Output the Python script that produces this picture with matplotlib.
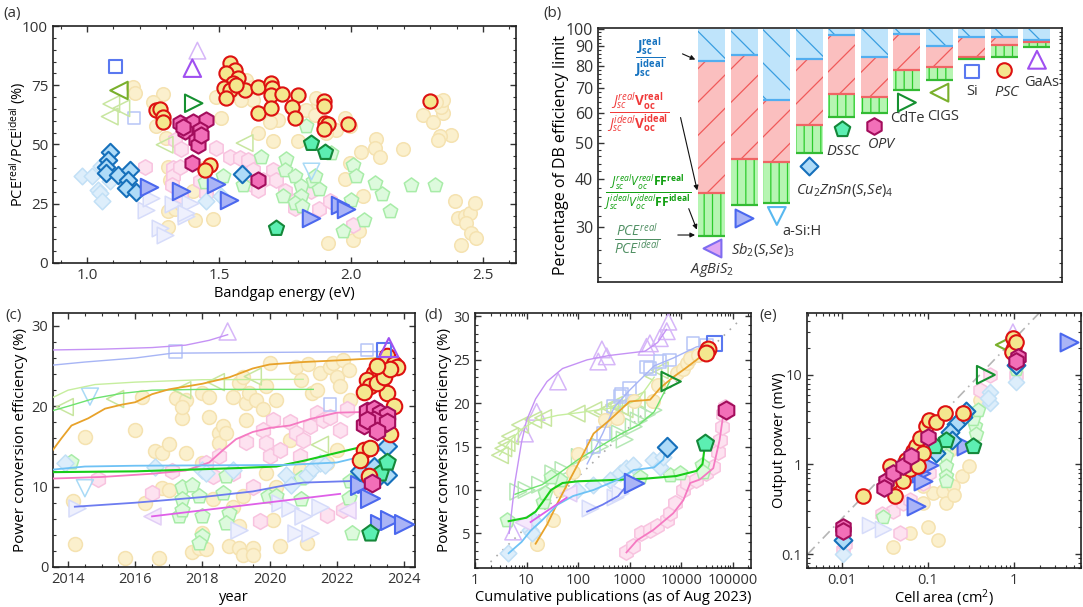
import numpy as np
import matplotlib
matplotlib.use("Agg")
import matplotlib.pyplot as plt
from matplotlib.ticker import AutoMinorLocator, FixedLocator, NullFormatter, FuncFormatter, LogLocator

plt.rcParams['font.family'] = ['Open Sans', 'DejaVu Sans']
plt.rcParams['font.size'] = 10.5
plt.rcParams['mathtext.fontset'] = 'custom'
plt.rcParams['mathtext.rm'] = 'Open Sans'
plt.rcParams['mathtext.it'] = 'Open Sans:italic'
plt.rcParams['mathtext.bf'] = 'Open Sans:bold'
plt.rcParams['axes.linewidth'] = 1.2
plt.rcParams['hatch.linewidth'] = 0.9
plt.rcParams['xtick.direction'] = 'in'
plt.rcParams['ytick.direction'] = 'in'
plt.rcParams['xtick.top'] = True
plt.rcParams['ytick.right'] = True
plt.rcParams['xtick.color'] = '#333333'
plt.rcParams['ytick.color'] = '#333333'

# ---------------- data: panel (a)  bandgap (eV), PCE ratio (%) ----------------
a_psc = [(1.54, 84.3), (1.559, 81.5), (1.528, 80), (1.572, 78), (1.553, 75.8), (1.518, 73.7),
         (1.54, 73), (1.597, 73), (1.528, 69.5), (1.566, 75), (1.648, 74.2), (1.698, 76.1),
         (1.70, 73.7), (1.698, 70.9), (1.74, 71.3), (1.799, 70.9), (1.778, 66), (1.787, 61.1),
         (1.648, 63.2), (1.698, 65.3), (1.896, 68.4), (1.896, 66.3), (1.90, 59), (1.913, 58.7),
         (1.896, 56.5), (1.989, 58.6), (2.298, 68.4), (1.263, 64.6), (1.278, 64.9),
         (1.288, 61.8), (1.288, 59.7), (1.467, 41.2), (1.446, 39.3)]
a_psc_f = [(1.174, 74.2), (1.18, 71.6), (1.288, 71.3), (1.25, 68.1), (1.26, 57.9), (1.30, 52.7),
           (1.49, 70.2), (1.506, 61.1), (1.603, 77.2), (1.629, 74.4), (1.629, 68.8), (1.585, 68.8),
           (1.648, 54.8), (1.705, 51.3), (1.724, 60.4), (1.693, 59.3), (1.799, 51.3), (1.831, 64.6),
           (1.875, 67.4), (1.869, 69.5), (1.862, 62.5), (1.944, 56.2), (1.976, 35.5), (1.995, 42.1),
           (2.039, 47), (2.096, 52.2), (2.09, 48.5), (2.108, 44.9), (2.197, 48.2), (2.045, 28.1),
           (2.008, 9.8), (2.03, 13.3), (1.913, 8.4), (2.273, 62.5), (2.311, 59.7), (2.348, 63.2),
           (2.342, 66), (2.348, 68.8), (2.323, 68.1), (2.38, 54.1), (2.336, 53.4), (2.33, 52),
           (2.393, 26), (2.405, 19), (2.43, 19.7), (2.449, 21.1), (2.468, 25.3), (2.437, 16.9),
           (2.456, 12.6), (2.475, 10.5), (2.418, 7.7), (1.307, 15.4), (1.307, 21.8), (1.332, 22.8),
           (1.357, 25), (1.408, 18), (1.477, 18.5), (1.402, 30.2), (1.442, 40), (1.307, 40.7),
           (1.313, 35.1), (1.995, 57.6), (1.976, 61.1), (1.907, 54.8)]
a_opv = [(1.351, 59), (1.402, 59.7), (1.449, 60.4), (1.37, 55.5), (1.427, 56.2), (1.414, 52),
         (1.42, 49.9), (1.399, 42.1), (1.648, 35.1), (1.364, 57.3), (1.433, 54)]
a_opv_f = [(1.218, 40.7), (1.332, 52), (1.357, 48), (1.326, 40), (1.326, 36.5), (1.32, 33),
           (1.351, 40.7), (1.357, 28.1), (1.49, 48.5), (1.54, 44.9), (1.578, 44.2), (1.61, 43.5),
           (1.629, 39.3), (1.667, 35.1), (1.629, 33), (1.648, 30.9), (1.705, 39.3), (1.717, 35.1),
           (1.749, 30.2), (1.793, 26.7), (1.787, 23.2), (1.85, 30.2), (1.879, 22.8), (1.919, 26),
           (2.008, 16.2), (1.427, 34.4), (1.452, 29.5)]
a_czts = [(1.086, 47), (1.08, 43.5), (1.073, 40.7), (1.071, 37.9), (1.117, 37.2), (1.162, 39.3),
          (1.155, 35.1), (1.149, 31.6), (1.187, 29.8), (1.588, 37.6)]
a_czts_f = [(0.979, 36.8), (1.02, 36.8), (1.042, 30.9), (1.048, 29.5), (1.058, 26), (1.086, 34.4),
            (1.054, 41), (1.452, 26), (1.509, 28.1)]
a_sb = [(1.235, 32), (1.357, 30.5), (1.487, 33.3), (1.538, 26.7), (1.85, 19), (1.957, 24.6),
        (1.982, 22.8)]
a_sb_f = [(1.225, 22.5), (1.244, 27.4), (1.275, 14.7), (1.294, 11.9), (1.326, 25), (1.376, 19.7),
          (1.389, 25.3), (1.376, 21.1)]
a_dssc = [(1.85, 50.6), (1.90, 47), (1.717, 14.7)]
a_dssc_f = [(1.447, 34), (1.515, 36.5), (1.591, 33), (1.66, 44.9), (1.755, 43.8), (1.749, 39.3),
            (1.787, 36.5), (1.812, 32.3), (1.812, 28.1), (1.831, 57.9), (1.856, 34.4), (1.879, 31.3),
            (1.862, 36.5), (1.742, 28.1), (1.787, 25.3), (2.001, 26.7), (2.008, 41.4), (2.018, 36.5),
            (2.09, 33.7), (2.119, 29.2), (2.146, 21.8), (2.229, 33), (2.317, 33), (1.97, 13.3),
            (2.048, 18.3), (1.926, 46.3), (1.816, 24.2)]
a_gaas = [(1.399, 82.2)]
a_gaas_f = [(1.418, 89.6)]
a_si = [(1.109, 82.9)]
a_si_f = [(1.178, 61.1)]
a_cigs = [(1.121, 72.8)]
a_cigs_f = [(1.092, 67.1), (1.13, 65.3), (1.086, 61.8), (1.294, 49.9), (1.597, 50.6)]
a_cdte = [(1.404, 67.4)]
a_asi_f = [(1.85, 38.6)]

# ---------------- data: panel (b)  percentage of detailed-balance limit ----------------
b_names = [r'$AgBiS_2$', r'$Sb_2(S{,}Se)_3$', 'a-Si:H', r'$Cu_2ZnSn(S{,}Se)_4$', r'$DSSC$', r'$OPV$',
           'CdTe', 'CIGS', 'Si', r'$PSC$', 'GaAs']
b_keys = ['agbis', 'sb', 'asi', 'czts', 'dssc', 'opv', 'cdte', 'cigs', 'si', 'psc', 'gaas']
b_jsc = [82.5, 85.6, 65.0, 83.4, 96.7, 84.4, 97.3, 90.0, 95.3, 95.3, 93.8]
b_jscvoc = [36.9, 45.3, 44.6, 55.9, 67.4, 66.1, 77.8, 79.2, 84.2, 90.6, 92.3]
b_pce = [28.4, 34.2, 34.6, 46.9, 58.7, 59.9, 69.1, 73.4, 83.5, 84.4, 89.7]

# ---------------- data: panel (c)  year, PCE (%) ----------------
c_psc = [(2023.5, 26.2), (2023.7, 25.2), (2023.8, 24.9), (2023.3, 24.5), (2023.1, 24.1),
         (2022.9, 23.3), (2023.0, 22.5), (2022.8, 21.8), (2023.5, 21.6), (2023.7, 20.0),
         (2023.4, 17.1), (2023.6, 16.5), (2022.8, 14.6), (2023.0, 14.8), (2022.7, 13.3),
         (2022.95, 11.3), (2023.2, 22.9), (2023.4, 23.7), (2023.6, 24.6), (2023.2, 25.0)]
c_psc_f = [(2014.2, 2.8), (2014.5, 16.2), (2016.0, 17.1), (2015.7, 1.1), (2016.2, 21.2), (2016.7, 1.1),
           (2016.6, 14.4), (2016.8, 14.2), (2017.0, 15.3), (2016.8, 9.8), (2017.0, 9.6), (2017.2, 21.0),
           (2017.4, 18.5), (2017.5, 20.8), (2017.4, 19.9), (2017.7, 1.9), (2017.9, 2.4), (2018.1, 2.2),
           (2018.0, 4.2), (2018.0, 21.6), (2018.2, 21.2), (2018.2, 18.7), (2018.5, 16.7), (2018.5, 15.4),
           (2018.6, 17.5), (2018.7, 16.7), (2018.8, 2.6), (2019.1, 2.4), (2019.2, 1.5), (2019.5, 2.4),
           (2019.5, 1.5), (2019.1, 5.1), (2018.9, 21.2), (2019.1, 22.9), (2019.2, 23.7), (2019.3, 20.4),
           (2019.3, 18.3), (2019.4, 21.6), (2019.6, 20.8), (2019.8, 19.6), (2020.0, 25.4), (2019.9, 22.5),
           (2020.2, 20.8), (2020.3, 2.6), (2020.8, 24.9), (2020.95, 23.3), (2021.15, 25.2), (2021.25, 21.6),
           (2021.4, 22.0), (2021.5, 24.1), (2021.8, 24.9), (2021.9, 25.4), (2022.0, 23.7), (2022.1, 22.5),
           (2022.2, 25.8), (2022.35, 24.5), (2022.4, 20.8), (2021.7, 12.9), (2022.0, 14.6), (2021.1, 3.0),
           (2020.1, 5.9), (2020.6, 15.8), (2020.9, 12.1), (2018.3, 8.4), (2018.9, 7.5), (2019.2, 8.8),
           (2019.9, 11.7), (2020.2, 10.0), (2014.15, 8.2), (2016.3, 8.0), (2017.5, 14.2), (2018.0, 12.9)]
c_opv = [(2022.9, 19.4), (2023.1, 19.6), (2023.3, 19.1), (2023.5, 18.9), (2022.8, 17.7),
         (2023.3, 17.5), (2023.1, 18.3), (2023.5, 18.1), (2022.9, 18.3), (2023.2, 16.9), (2023.05, 10.5)]
c_opv_f = [(2014.9, 10.9), (2016.5, 9.2), (2017.1, 11.9), (2018.1, 12.9), (2018.3, 11.3), (2018.5, 13.8),
           (2018.9, 11.7), (2019.3, 15.6), (2019.5, 10.0), (2019.7, 5.7), (2019.8, 17.1), (2019.9, 15.4),
           (2020.0, 13.8), (2020.1, 18.3), (2020.2, 8.4), (2020.3, 14.6), (2020.6, 18.1), (2020.8, 16.7),
           (2021.0, 15.8), (2021.2, 17.5), (2021.4, 19.1), (2021.6, 18.3), (2021.8, 18.7), (2022.1, 17.1),
           (2022.3, 19.6), (2020.9, 13.8), (2021.7, 6.5), (2022.2, 7.1)]
c_dssc = [(2023.0, 4.2), (2023.3, 11.7), (2023.5, 13.1)]
c_dssc_f = [(2014.1, 13.1), (2017.4, 10.0), (2017.7, 10.2), (2017.4, 8.4), (2017.3, 6.3), (2017.4, 7.1),
            (2017.9, 8.8), (2018.0, 6.3), (2018.0, 3.8), (2017.9, 3.0), (2018.7, 11.3), (2018.6, 9.2),
            (2018.8, 6.7), (2018.7, 5.5), (2019.95, 8.8), (2020.2, 8.8), (2020.95, 11.1), (2020.95, 8.4),
            (2022.4, 10.7), (2022.35, 8.6), (2022.45, 4.2)]
c_czts = [(2023.5, 15.0), (2022.7, 11.9), (2023.1, 12.5), (2023.3, 11.4), (2023.5, 11.5)]
c_czts_f = [(2013.9, 12.9), (2016.6, 12.5), (2018.0, 12.1), (2018.1, 11.7), (2018.9, 12.1), (2020.5, 11.5),
            (2020.65, 10.2), (2021.1, 11.5), (2021.3, 12.3), (2021.5, 12.9), (2021.65, 12.7)]
c_sb = [(2022.9, 10.4), (2023.0, 8.6), (2023.3, 5.3), (2023.6, 5.9), (2024.0, 5.3), (2022.7, 10.2)]
c_sb_f = [(2014.25, 7.3), (2020.3, 8.0), (2020.6, 7.3), (2021.0, 6.3), (2021.5, 7.5), (2020.8, 4.2),
          (2021.2, 4.2), (2019.1, 4.6)]
c_agbis_f = [(2016.5, 6.3), (2022.3, 7.1)]
c_cigs_f = [(2013.9, 19.9), (2015.4, 20.9), (2018.4, 23.0), (2019.5, 23.7), (2021.5, 15.2), (2017.4, 22.0)]
c_asi_f = [(2014.5, 9.8), (2014.65, 21.2)]
c_gaas = [(2023.55, 27.3)]
c_gaas_f = [(2018.75, 29.3)]
c_si = [(2023.4, 27.0)]
c_si_f = [(2017.2, 26.8), (2022.9, 27.0), (2021.8, 20.2)]

c_lines = {
    'gaas': ([2013.5, 2015, 2016.5, 2017.5, 2018.2, 2018.75], [27.0, 27.1, 27.3, 27.6, 28.2, 28.9]),
    'si': ([2013.5, 2014.5, 2016, 2017.1, 2020, 2023.3], [25.1, 25.5, 26.0, 26.6, 26.7, 26.8]),
    'cigs': ([2013.5, 2014, 2014.8, 2016, 2018, 2021], [21.0, 22.0, 22.7, 23.0, 23.3, 23.35]),
    'cdte': ([2013.5, 2014, 2014.8, 2015.6, 2016.5, 2018, 2021.3], [19.4, 20.0, 21.0, 21.6, 22.0, 22.1, 22.1]),
    'psc': ([2013.5, 2013.8, 2014.1, 2014.6, 2015.1, 2015.6, 2016, 2016.5, 2017, 2018, 2018.8, 2019.5,
             2020, 2021, 2022, 2023.3],
            [14.3, 16.0, 17.6, 18.5, 19.7, 20.2, 20.5, 21.5, 22.1, 22.8, 23.6, 24.7, 25.2, 25.5, 25.7, 26.0]),
    'opv': ([2013.5, 2015, 2016.5, 2017.5, 2018.2, 2018.6, 2019, 2019.5, 2020, 2020.6, 2021.2, 2022, 2023],
            [11.0, 11.2, 11.6, 12.0, 13.0, 14.5, 15.9, 16.8, 17.3, 17.6, 18.4, 19.2, 19.3]),
    'dssc': ([2013.5, 2016, 2019, 2020.2, 2021, 2022, 2023], [11.8, 11.9, 12.3, 12.5, 13.2, 14.2, 15.2]),
    'czts': ([2013.5, 2014.5, 2016, 2020.5, 2022, 2023, 2023.5], [12.1, 12.5, 12.6, 12.7, 13.0, 14.0, 14.9]),
    'sb': ([2014.2, 2016, 2018, 2019.5, 2020.5, 2021, 2022.5, 2023.3], [7.5, 8.0, 8.7, 9.4, 10.2, 10.5, 10.7, 10.8]),
    'agbis': ([2016.5, 2022.1], [6.3, 9.1]),
}

# ---------------- data: panel (d)  cumulative publications, PCE (%) ----------------
d_gaas_f = [(5.5, 5.2), (9.3, 16.5), (15.7, 19), (41, 22.5), (247, 24.8), (290, 26.2), (360, 25.4),
            (2130, 26.5), (2480, 26.9), (3860, 27.5), (5260, 28.3), (5650, 29.4)]
d_cigs_f = [(3.06, 14), (3.55, 14.8), (4.1, 15.4), (4.8, 16.2), (7.5, 17.5), (13.5, 18.1), (21, 18.3),
            (94, 18.8), (198, 19.2), (417, 19.4), (650, 19.6), (1370, 20.4), (2900, 23.1), (3860, 23.8),
            (300, 19.0), (500, 19.8), (800, 19.3)]
d_cdte_f = [(6.9, 9.8), (10, 10), (18.3, 10.6), (33, 11.9), (52, 12.3), (108, 13.8), (265, 15),
            (650, 16.5), (1200, 17.3), (2150, 18.7), (2900, 19.2), (1500, 18.0), (800, 15.8)]
d_cdte = [(6400, 22.5)]
d_si_f = [(198, 15), (310, 16.5), (490, 19.6), (650, 20.8), (1000, 21.7), (2150, 24.2), (3860, 24.8),
          (6000, 25), (17000, 26.9), (31000, 26.7), (700, 21.0), (2500, 24.0)]
d_si = [(45000, 26.9)]
d_psc_f = [(15.9, 3.8), (33, 6.5), (44.7, 10), (80.6, 12.1), (101, 14.2), (334, 18.1), (560, 18.3),
           (1200, 20.2), (2900, 20.2), (3600, 22.1), (8200, 23.5), (11000, 24), (12800, 24.6),
           (14900, 25.2), (21500, 25.6)]
d_psc = [(33500, 26.2), (31000, 25.8)]
d_opv_f = [(870, 2.9), (1170, 3.5), (1700, 5), (2500, 5.4), (3400, 5.8), (5300, 6.5), (6100, 7.3),
           (7600, 8.5), (11000, 10), (12800, 10.8), (19700, 11.2), (31000, 11.9), (42000, 12.7),
           (52000, 14.4), (56000, 15.8), (61000, 17.3), (65000, 18.7), (70000, 19.6)]
d_opv = [(75000, 19.2)]
d_dssc_f = [(4.1, 6.5), (21, 8.6), (44.7, 11.1), (23, 9.6), (30, 11.5), (1600, 11.5), (6100, 11.7),
            (9500, 11.9), (25000, 12.9), (27000, 12.1)]
d_dssc = [(29000, 15.4)]
d_czts_f = [(4.4, 2.7), (11.7, 5.4), (13.5, 6.5), (12.6, 5.0), (94, 10), (198, 10.6), (417, 11.2),
            (650, 11.9), (870, 12.5), (1170, 12.9), (2900, 13.5), (3900, 12.7), (4500, 13.8)]
d_czts = [(5260, 14.9)]
d_sb_f = [(170, 7.9), (520, 9.2), (650, 9.6)]
d_sb = [(1200, 10.8)]
d_agbis_f = [(8.7, 6.3), (64.5, 9.6)]

d_lines = {
    'gaas': ([4.6, 6, 8, 10, 15, 25, 50, 150, 400, 2000, 3500, 5200],
             [5, 11, 15.5, 18, 20.5, 22.5, 24, 25, 25.5, 26, 27, 28.5]),
    'cigs': ([3, 5, 8, 15, 40, 100, 300, 800, 1500, 3000], [14, 15.8, 17, 18, 18.6, 18.9, 19.3, 19.7, 20.5, 23]),
    'cdte': ([6, 10, 20, 40, 100, 300, 700, 1500, 3000, 6000], [9.5, 10, 10.6, 11.8, 13.5, 15.2, 16.5, 17.5, 19, 22.5]),
    'si': ([150, 300, 500, 1000, 3000, 7000, 20000, 40000], [13, 16.5, 19.5, 21.5, 24.3, 25.2, 26.5, 26.8]),
    'psc': ([15, 25, 40, 60, 100, 200, 400, 1000, 2500, 4000, 7000, 12000, 20000, 32000],
            [3.8, 6, 8.5, 10.5, 13, 16.5, 18, 20.2, 20.4, 21.8, 23, 24, 25, 26]),
    'opv': ([870, 1400, 2900, 7000, 11000, 15000, 23000, 42000, 56000, 65000, 72000],
            [2.8, 4.2, 5.4, 7.3, 8.8, 10.8, 11.2, 12.5, 15.8, 18.5, 19.3]),
    'dssc': ([4.5, 10, 15, 20, 30, 50, 100, 300, 2000, 8000, 20000, 26000, 29000],
             [6.4, 6.8, 7.5, 8.5, 10, 10.8, 11.0, 11.1, 11.3, 11.6, 12.2, 13, 15.2]),
    'czts': ([4.5, 8, 12, 20, 40, 80, 200, 600, 1200, 3000, 4500, 5200],
             [2.7, 4.0, 5.3, 6.5, 8.3, 9.3, 10.0, 11.2, 12.3, 12.6, 13.5, 14.9]),
    'sb': ([150, 300, 600, 800, 1100], [7.5, 8.3, 9.3, 10.2, 10.8]),
    'agbis': ([12, 60], [6.3, 9.1]),
}
d_guide_x = [2, 150000]
d_guide_y = [1.7, 29.8]

# ---------------- data: panel (e)  cell area (cm2), output power (mW) ----------------
e_psc = [(0.0175, 0.448), (0.0358, 0.95), (0.0373, 0.646), (0.041, 0.44), (0.049, 0.8), (0.051, 0.65),
         (0.056, 1.13), (0.061, 0.9), (0.067, 1.4), (0.073, 1.6), (0.08, 1.96), (0.087, 1.34),
         (0.095, 2.7), (0.104, 3.1), (0.125, 3.0), (0.076, 0.95), (0.157, 3.73), (0.254, 3.73),
         (0.97, 25.6), (1.0, 20.7), (0.95, 18.2), (1.05, 23.5)]
e_psc_f = [(0.039, 0.12), (0.061, 0.17), (0.1, 0.2), (0.13, 0.145), (0.088, 0.37), (0.115, 0.48),
           (0.15, 0.5), (0.16, 0.37), (0.195, 0.57), (0.2, 0.46), (0.25, 0.74), (0.3, 0.95), (0.33, 1.6),
           (0.4, 5.3), (0.18, 1.46), (0.087, 0.57)]
e_opv = [(0.0103, 0.2), (0.0103, 0.18), (0.0328, 0.646), (0.031, 0.55), (0.039, 0.8), (0.051, 0.95),
         (0.064, 1.23), (0.1, 2.05), (1.1, 16), (1.05, 14.1)]
e_opv_f = [(0.0103, 0.11), (0.0107, 0.13), (0.047, 0.17), (0.039, 0.3), (0.051, 0.37), (0.061, 0.4),
           (0.087, 0.62), (0.104, 0.8), (0.4, 6.8), (0.52, 10), (1.05, 10), (0.029, 0.28)]
e_czts = [(0.0103, 0.145), (1.05, 12.9), (0.28, 4.0), (0.254, 3.4), (0.21, 2.8), (0.18, 2.3),
          (0.19, 1.9), (0.125, 1.34)]
e_czts_f = [(0.52, 6.5), (0.52, 4.8), (0.5, 5.5), (1.05, 8.4), (0.0103, 0.1)]
e_dssc = [(0.119, 1.6), (0.163, 1.9), (0.33, 1.6)]
e_dssc_f = [(0.0299, 0.26), (0.157, 1.6), (0.16, 1.23), (0.16, 0.95), (0.16, 0.74), (0.16, 0.65),
            (0.35, 2.7), (0.36, 2.2), (0.33, 3.2), (0.38, 4.1), (1.05, 11.5)]
e_sb = [(0.073, 0.34), (4.4, 23.5), (0.28, 1.6), (0.083, 0.8), (0.087, 0.65), (0.104, 0.99)]
e_sb_f = [(0.021, 0.21), (0.03, 0.19)]
e_cdte = [(0.47, 10)]
e_cigs = [(0.78, 21.6)]
e_gaas_f = [(0.97, 30)]
e_guide_x = [0.004, 2.2]
e_guide_y = [0.1, 55]

# ---------------- styles ----------------
STY = {
    'psc': dict(m='o', k=1.0, fc='#f4e78e', ec='#dd1111', ffc='#fbf0cd', fec='#f5e2b0'),
    'opv': dict(m='h', k=1.3, fc='#f26fb8', ec='#a30d5c', ffc='#fde2f0', fec='#f8c3df'),
    'dssc': dict(m='p', k=1.25, fc='#5cefb2', ec='#14883a', ffc='#ddfadd', fec='#a8eca8'),
    'czts': dict(m='D', k=0.75, fc='#aedbf8', ec='#1670bb', ffc='#ddeefb', fec='#c2e0f6'),
    'sb': dict(m='>', k=1.5, fc='#aab4f6', ec='#4b68ee', ffc='#eef0fd', fec='#d6dcfa'),
    'agbis': dict(m='<', k=1.5, fc='#e0a6f3', ec='#7f6cf0', ffc='#f6e8fc', fec='#e2cff6'),
    'asi': dict(m='v', k=1.5, fc='none', ec='#58b8f0', ffc='none', fec='#a9daf6'),
    'cdte': dict(m='>', k=1.5, fc='none', ec='#159030', ffc='none', fec='#b5e8b5'),
    'cigs': dict(m='<', k=1.5, fc='none', ec='#7ab02c', ffc='none', fec='#c8e6a0'),
    'si': dict(m='s', k=0.85, fc='none', ec='#5a78f0', ffc='none', fec='#b7c5f7'),
    'gaas': dict(m='^', k=1.5, fc='none', ec='#a050f0', ffc='none', fec='#d6b6f8'),
}
LINE_C = {'gaas': '#c592f5', 'si': '#a7b5f5', 'cigs': '#c6ee9e', 'cdte': '#6ee26e', 'psc': '#e8a22a',
          'opv': '#f57ac2', 'dssc': '#18cc18', 'czts': '#6ec2f5', 'sb': '#6d7cf0', 'agbis': '#df5fe8'}
LINE_W = {'gaas': 1.0, 'si': 1.0, 'cigs': 1.0, 'cdte': 1.0, 'psc': 1.3, 'opv': 1.3, 'dssc': 1.5,
          'czts': 1.3, 'sb': 1.3, 'agbis': 1.3}


def scat(ax, key, pts, bold=True, s=80):
    st = STY[key]
    xy = np.array(pts, dtype=float)
    if bold:
        fc, ec, lw, z = st['fc'], st['ec'], 1.5, 6
    else:
        fc, ec, lw, z = st['ffc'], st['fec'], 1.1, 2
    ax.scatter(xy[:, 0], xy[:, 1], s=s * st['k'], marker=st['m'], facecolors=fc,
               edgecolors=ec, linewidths=lw, zorder=z)


def frame(ax, labelsize=11):
    for sp in ax.spines.values():
        sp.set_color('#222222')
    ax.tick_params(which='major', length=4, width=1, labelsize=labelsize, labelcolor='#333333')
    ax.tick_params(which='minor', length=2, width=0.8)


def place_labels(ax, xl_y, yl_x):
    # label centres in axes fraction
    ax.xaxis.set_label_coords(0.5, xl_y)
    ax.xaxis.label.set_va('center')
    ax.yaxis.set_label_coords(yl_x, 0.5)
    ax.yaxis.label.set_va('center')


fig = plt.figure(figsize=(10.83, 6.07), dpi=100)
W, H = 1083, 607


def add_axes(l, t, r, b):
    return fig.add_axes([l / W, 1 - b / H, (r - l) / W, (b - t) / H])


# ---------------- (a) ----------------
ax = add_axes(53, 26, 516, 263)
for key, pts in [('psc', a_psc_f), ('opv', a_opv_f), ('dssc', a_dssc_f), ('czts', a_czts_f),
                 ('sb', a_sb_f), ('gaas', a_gaas_f), ('si', a_si_f), ('cigs', a_cigs_f), ('asi', a_asi_f)]:
    scat(ax, key, pts, bold=False, s=95)
for key, pts in [('czts', a_czts), ('sb', a_sb), ('dssc', a_dssc), ('gaas', a_gaas), ('si', a_si),
                 ('cigs', a_cigs), ('cdte', a_cdte), ('opv', a_opv), ('psc', a_psc)]:
    scat(ax, key, pts, bold=True, s=105)
ax.set_xlim(0.871, 2.625)
ax.set_ylim(0, 100)
ax.set_xticks([1.0, 1.5, 2.0, 2.5])
ax.set_yticks([0, 25, 50, 75, 100])
ax.xaxis.set_minor_locator(AutoMinorLocator(5))
ax.yaxis.set_minor_locator(AutoMinorLocator(5))
ax.set_xlabel('Bandgap energy (eV)', fontsize=10.5)
ax.set_ylabel(r'PCE$^{\rm real}$/PCE$^{\rm ideal}$ (%)', fontsize=10.5)
place_labels(ax, -0.127, -0.076)
frame(ax)

# ---------------- (b) ----------------
ax = add_axes(598, 28, 1062, 282)
xb = np.arange(len(b_keys))
jsc = np.array(b_jsc)
jv = np.array(b_jscvoc)
pce = np.array(b_pce)
bw = 0.83
ax.bar(xb, 100 - jsc, bottom=jsc, width=bw, color='#bfe4fb', edgecolor='#3a9ee0', linewidth=0,
       hatch='\\', zorder=2)
ax.bar(xb, jsc - jv, bottom=jv, width=bw, color='#fbbfbf', edgecolor='#f05a5a', linewidth=0,
       hatch='/', zorder=2)
ax.bar(xb, jv - pce, bottom=pce, width=bw, color='#b6f5b2', edgecolor='#2ccc2c', linewidth=0,
       hatch='||', zorder=2)
ax.hlines(jsc, xb - bw / 2, xb + bw / 2, color='#52aef0', lw=1.6, zorder=3)
ax.hlines(jv, xb - bw / 2, xb + bw / 2, color='#f06464', lw=1.6, zorder=3)
ax.hlines(pce, xb - bw / 2, xb + bw / 2, color='#33bb33', lw=1.6, zorder=3)
for i, key in enumerate(b_keys):
    st = STY[key]
    ax.scatter([xb[i]], [pce[i] * 0.925], s=110 * st['k'], marker=st['m'], facecolors=st['fc'],
               edgecolors=st['ec'], linewidths=1.5, zorder=5, clip_on=False)
# label positions (x, y) for the material names
b_label_xy = [(0.0, 23.0), (1.57, 26.0), (2.77, 29.2), (4.09, 37.3), (4.06, 47.3), (5.23, 49.4),
              (6.0, 57.9), (7.12, 58.6), (8.0, 68.3), (9.08, 67.9), (10.15, 72.1)]
for name, (lx, ly) in zip(b_names, b_label_xy):
    ax.text(lx, ly, name, ha='center', va='center', fontsize=10.5, color='#333333')
ax.text(-1.9, 84.0, r'$\mathbf{\frac{J_{sc}^{real}}{J_{sc}^{ideal}}}$', color='#1673c0',
        ha='center', va='center', fontsize=14)
ax.text(-2.28, 60.1, r'$\frac{J_{sc}^{real}\mathbf{V_{oc}^{real}}}{J_{sc}^{ideal}\mathbf{V_{oc}^{ideal}}}$',
        color='#f03a3a', ha='center', va='center', fontsize=14)
ax.text(-1.97, 37.1, r'$\frac{J_{sc}^{real}V_{oc}^{real}\mathbf{FF^{real}}}{J_{sc}^{ideal}V_{oc}^{ideal}\mathbf{FF^{ideal}}}$',
        color='#12a012', ha='center', va='center', fontsize=12.5)
ax.text(-2.28, 27.8, r'$\frac{PCE^{real}}{PCE^{ideal}}$', color='#4f8f62', ha='center', va='center',
        fontsize=14)
arrow = dict(arrowstyle='-|>', color='#111111', lw=0.8, mutation_scale=7)
ax.annotate('', xy=(-0.43, 82.5), xytext=(-0.98, 86.6), arrowprops=arrow)
ax.annotate('', xy=(-0.43, 36.8), xytext=(-0.98, 59.3), arrowprops=arrow)
ax.annotate('', xy=(-0.43, 29.0), xytext=(-0.74, 34.0), arrowprops=arrow)
ax.annotate('', xy=(-0.43, 28.5), xytext=(-1.13, 28.5), arrowprops=arrow)
ax.set_yscale('log')
ax.set_ylim(21.4, 100.7)
ax.set_xlim(-3.5, 10.77)
ax.set_xticks([])
ax.yaxis.set_major_locator(FixedLocator([30, 40, 50, 60, 70, 80, 90, 100]))
ax.yaxis.set_major_formatter(FuncFormatter(lambda v, p: f'{v:g}'))
ax.yaxis.set_minor_locator(FixedLocator([v for v in range(22, 100, 2) if v % 10]))
ax.yaxis.set_minor_formatter(NullFormatter())
ax.tick_params(axis='x', top=False, bottom=False)
ax.tick_params(axis='y', right=False)
ax.set_ylabel('Percentage of DB efficiency limit', fontsize=11.5)
place_labels(ax, -0.05, -0.08)
frame(ax, labelsize=11.5)

# ---------------- (c) ----------------
ax = add_axes(53, 313, 415, 567)
for key, pts in [('psc', c_psc_f), ('opv', c_opv_f), ('dssc', c_dssc_f), ('czts', c_czts_f),
                 ('sb', c_sb_f), ('agbis', c_agbis_f), ('cigs', c_cigs_f), ('asi', c_asi_f),
                 ('gaas', c_gaas_f), ('si', c_si_f)]:
    scat(ax, key, pts, bold=False, s=100)
for key, (lx, ly) in c_lines.items():
    ax.plot(lx, ly, color=LINE_C[key], lw=LINE_W[key], zorder=4)
for key, pts in [('sb', c_sb), ('czts', c_czts), ('dssc', c_dssc), ('psc', c_psc), ('opv', c_opv),
                 ('si', c_si), ('gaas', c_gaas)]:
    scat(ax, key, pts, bold=True, s=125)
ax.set_xlim(2013.55, 2024.33)
ax.set_ylim(0, 31.6)
ax.set_xticks([2014, 2016, 2018, 2020, 2022, 2024])
ax.set_yticks([0, 10, 20, 30])
ax.xaxis.set_minor_locator(AutoMinorLocator(4))
ax.yaxis.set_minor_locator(AutoMinorLocator(5))
ax.set_xlabel('year', fontsize=10.5)
ax.set_ylabel('Power conversion efficiency (%)', fontsize=11)
place_labels(ax, -0.12, -0.091)
frame(ax, labelsize=10.5)

# ---------------- (d) ----------------
ax = add_axes(475, 313, 751, 568)
ax.plot(d_guide_x, d_guide_y, color='#aaaaaa', lw=1.2, ls=(0, (1, 4)), zorder=1)
for key, pts in [('gaas', d_gaas_f), ('cigs', d_cigs_f), ('cdte', d_cdte_f), ('si', d_si_f),
                 ('psc', d_psc_f), ('opv', d_opv_f), ('dssc', d_dssc_f), ('czts', d_czts_f),
                 ('sb', d_sb_f), ('agbis', d_agbis_f)]:
    scat(ax, key, pts, bold=False, s=95)
for key, (lx, ly) in d_lines.items():
    ax.plot(lx, ly, color=LINE_C[key], lw=LINE_W[key], zorder=4)
for key, pts in [('cdte', d_cdte), ('si', d_si), ('psc', d_psc), ('opv', d_opv), ('dssc', d_dssc),
                 ('czts', d_czts), ('sb', d_sb)]:
    scat(ax, key, pts, bold=True, s=130)
ax.set_xscale('log')
ax.set_xlim(1, 2.27e5)
ax.set_ylim(1, 30.4)
ax.set_xticks([1, 10, 100, 1000, 10000, 100000])
ax.xaxis.set_major_formatter(FuncFormatter(lambda v, p: f'{v:.0f}'))
ax.xaxis.set_minor_locator(LogLocator(base=10, subs=np.arange(2, 10), numticks=20))
ax.xaxis.set_minor_formatter(NullFormatter())
ax.set_yticks([5, 10, 15, 20, 25, 30])
ax.yaxis.set_minor_locator(AutoMinorLocator(5))
ax.set_xlabel('Cumulative publications (as of Aug 2023)', fontsize=10.5)
ax.set_ylabel('Power conversion efficiency (%)', fontsize=11)
place_labels(ax, -0.117, -0.109)
frame(ax, labelsize=10.5)

# ---------------- (e) ----------------
ax = add_axes(807, 313, 1081, 568)
ax.plot(e_guide_x, e_guide_y, color='#b5b5b5', lw=1.2, ls=(0, (6, 3, 1, 3)), zorder=1)
for key, pts in [('psc', e_psc_f), ('opv', e_opv_f), ('czts', e_czts_f), ('dssc', e_dssc_f),
                 ('sb', e_sb_f), ('gaas', e_gaas_f)]:
    scat(ax, key, pts, bold=False, s=90)
for key, pts in [('sb', e_sb), ('czts', e_czts), ('dssc', e_dssc), ('cdte', e_cdte), ('cigs', e_cigs),
                 ('psc', e_psc), ('opv', e_opv)]:
    scat(ax, key, pts, bold=True, s=110)
ax.set_xscale('log')
ax.set_yscale('log')
ax.set_xlim(0.00392, 6.0)
ax.set_ylim(0.07, 49)
ax.set_xticks([0.01, 0.1, 1])
ax.set_yticks([0.1, 1, 10])
fmt = FuncFormatter(lambda v, p: f'{v:g}')
ax.xaxis.set_major_formatter(fmt)
ax.yaxis.set_major_formatter(fmt)
for a in (ax.xaxis, ax.yaxis):
    a.set_minor_locator(LogLocator(base=10, subs=np.arange(2, 10), numticks=20))
    a.set_minor_formatter(NullFormatter())
ax.set_xlabel(r'Cell area (cm$^2$)', fontsize=10.5)
ax.set_ylabel('Output power (mW)', fontsize=10.5)
place_labels(ax, -0.117, -0.1)
frame(ax, labelsize=10.5)

for lab, px, py in [('(a)', 12, 13), ('(b)', 552, 13), ('(c)', 14, 316), ('(d)', 434, 316), ('(e)', 768, 316)]:
    fig.text(px / W, 1 - py / H, lab, ha='center', va='center', fontsize=11, color='#333333')

fig.savefig('out.png', dpi=100)
